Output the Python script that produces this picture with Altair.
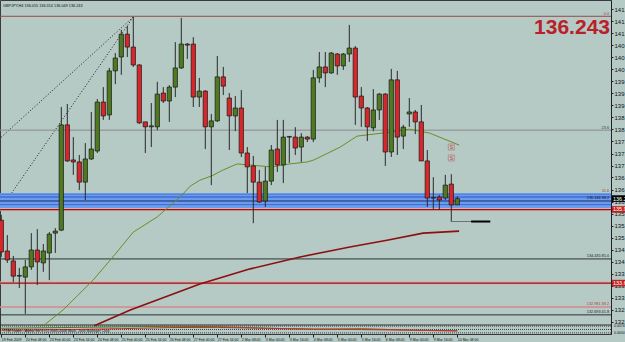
import altair as alt
import pandas as pd

# ---------------- data ----------------
opens = [135.59, 134.66, 134.36, 133.90, 133.87, 134.18, 134.69, 134.30, 134.60, 135.20,
         135.29, 138.47, 137.41, 137.35, 136.74, 137.44, 137.68, 139.16, 138.77, 140.10,
         140.52, 141.21, 140.82, 140.28, 138.56, 138.41, 138.41, 139.43, 139.19, 139.61,
         140.19, 140.91, 140.91, 139.31, 139.49, 138.41, 138.59, 139.92, 139.28, 138.74,
         138.98, 137.62, 137.23, 136.74, 136.17, 136.77, 137.74, 137.26, 138.10, 138.10,
         137.80, 138.10, 138.04, 139.89, 140.22, 140.04, 140.61, 140.25, 140.61, 140.79,
         139.34, 138.98, 138.38, 138.92, 139.40, 137.65, 139.83, 138.13, 138.80, 138.86,
         138.56, 137.38, 136.26, 136.29, 136.26, 136.68, 136.055]
highs = [135.75, 135.14, 134.51, 134.15, 134.39, 135.20, 135.32, 134.87, 135.23, 135.35,
         139.01, 139.10, 138.10, 137.56, 137.92, 138.86, 139.25, 139.61, 140.19, 140.64,
         141.34, 141.46, 141.73, 140.30, 138.56, 139.13, 139.77, 139.61, 139.67, 140.97,
         141.70, 140.94, 141.12, 139.89, 139.52, 138.80, 140.55, 140.22, 139.43, 139.34,
         139.52, 137.80, 137.53, 137.11, 137.20, 137.86, 138.62, 138.62, 138.13, 138.40,
         138.22, 138.13, 140.13, 140.67, 140.67, 140.67, 140.64, 140.64, 141.49, 140.85,
         139.61, 139.01, 139.55, 139.43, 139.43, 140.16, 140.10, 138.47, 139.28, 138.92,
         139.07, 137.71, 136.89, 136.35, 136.96, 136.98, 136.314]
lows = [134.48, 134.30, 133.72, 133.54, 132.76, 134.09, 133.63, 134.03, 133.78, 134.60,
        135.26, 137.35, 136.96, 136.50, 136.20, 137.41, 137.62, 138.62, 138.62, 139.70,
        139.98, 140.52, 140.22, 138.50, 137.62, 137.80, 138.31, 139.13, 138.56, 139.31,
        140.16, 140.46, 139.01, 139.01, 137.74, 136.65, 138.56, 139.37, 137.71, 138.28,
        137.50, 136.41, 135.50, 136.11, 135.99, 136.65, 137.05, 136.71, 137.32, 137.56,
        137.35, 137.95, 137.95, 139.74, 139.61, 140.01, 139.98, 140.13, 140.37, 138.47,
        138.41, 137.98, 138.28, 138.62, 137.23, 137.50, 137.56, 137.74, 138.41, 138.19,
        137.38, 135.99, 135.93, 135.90, 136.20, 135.54, 136.049]
closes = [134.63, 134.39, 133.90, 133.92, 134.18, 134.69, 134.33, 134.66, 135.17, 135.26,
          138.47, 137.38, 137.35, 136.74, 137.44, 137.74, 139.16, 138.74, 140.10, 140.49,
          141.21, 140.82, 140.28, 138.53, 138.41, 138.44, 139.40, 139.19, 139.61, 140.19,
          140.91, 140.88, 139.31, 139.49, 138.41, 138.59, 139.92, 139.64, 138.74, 138.98,
          137.62, 137.20, 136.74, 136.14, 136.77, 137.71, 137.26, 138.10, 138.12, 137.77,
          138.10, 138.04, 139.89, 140.22, 140.04, 140.64, 140.25, 140.61, 140.79, 139.31,
          138.98, 138.41, 138.92, 139.40, 137.65, 139.83, 138.10, 138.40, 138.86, 138.56,
          137.38, 136.26, 136.27, 136.20, 136.65, 136.05, 136.243]

x_labels = ["19 Feb 2009", "20 Feb 08:00", "23 Feb 00:00", "23 Feb 16:00", "24 Feb 08:00",
            "25 Feb 00:00", "25 Feb 16:00", "26 Feb 08:00", "27 Feb 00:00", "27 Feb 16:00",
            "2 Mar 08:00", "3 Mar 00:00", "3 Mar 16:00", "4 Mar 08:00", "5 Mar 00:00",
            "5 Mar 16:00", "6 Mar 08:00", "9 Mar 00:00", "9 Mar 16:00", "10 Mar 08:00"]

y_ticks = [141.970, 141.600, 141.240, 140.880, 140.510, 140.150, 139.790, 139.420, 139.060,
           138.700, 138.330, 137.970, 137.600, 137.240, 136.880, 136.510, 136.150, 135.790,
           135.420, 135.060, 134.700, 134.330, 133.970, 133.610, 133.240, 132.880, 132.520]

# moving averages (vertices)
ma_g_i = [7, 10.3, 15.3, 18.6, 22, 26, 29.8, 31.5, 33.1, 35.1, 37, 39.3, 45, 48.1, 51, 52.1,
          56.5, 59.3, 64.8, 68, 71.4, 76.3]
ma_g_v = [132.40, 132.88, 133.78, 134.48, 135.23, 135.69, 136.29, 136.62, 136.80, 136.93,
          137.11, 137.29, 137.20, 137.29, 137.35, 137.41, 137.80, 138.13, 138.25, 138.34,
          138.22, 137.86]
ma_r_i = [15.5, 21.5, 33.1, 41.5, 49.8, 58.1, 64.5, 70.3, 76.3]
ma_r_v = [132.40, 132.88, 133.66, 134.12, 134.48, 134.78, 134.99, 135.20, 135.26]

# fib fan dotted lines
fan_i = [0, 22]
fan1_v = [138.10, 141.73]
fan2_v = [135.96, 141.73]

# horizontal levels
lvl_top = 141.75
lvl_gray = 138.31
band_top, band_bot = 136.41, 135.96
band_lines = [136.37, 136.29, 136.17, 136.06]
lvl_band_red = 135.91
lvl_black = 134.42
lvl_red = 133.69
lvl_pink = 132.97
lvl_dark = 132.73

level_labels = ["0.0", "23.6", "11.6", "136.146  38.2", "134.435  85.0", "132.981  38.2", "132.693  41.8"]
level_label_p = [141.75, 138.31, 136.41, 136.17, 134.42, 132.97, 132.73]
level_label_c = ["#A03C3C", "#333333", "#A03C3C", "#111111", "#222222", "#B04040", "#222222"]

box_p = [136.243, 135.914, 133.689]
box_t = ["136.243", "135.914", "133.689"]
box_c = ["#000000", "#C02020", "#C02020"]

# bid marker near the last candle
seg_i1 = [75, 78.3]
seg_i2 = [78.3, 81.5]
seg_c = ["#707070", "#000000"]
seg_w = [1, 2]
seg_p = 135.55

s_marks_p = [137.80, 137.47]

# sub-window indicator
sub_i = [0, 10, 20, 28, 36, 44, 52, 60, 68, 76]
sub_blue = [0.0050, 0.0058, 0.0066, 0.0072, 0.0068, 0.0052, 0.0040, 0.0046, 0.0030, 0.0020]
sub_red = [0.0030, 0.0034, 0.0046, 0.0058, 0.0060, 0.0050, 0.0042, 0.0036, 0.0030, 0.0024]
sub_levels = [0.0074, 0.0037, 0.0]
sub_axis_labels = ["0.0074", "0.0000"]
sub_axis_vals = [0.0074, 0.0]

# ---------------- styling / layout ----------------
BG = "#B5C9C5"
GREEN = "#4F7A1F"
RED = "#D9262B"
W = 611
H = 334                 # main window (325 px) + indicator window (9 px)
FONT = "Liberation Sans"
XDOM = [-0.217, 101.617]
P_TOP = 142.242          # price at the top edge
P_MAIN_BOT = 132.424     # price at the main window's bottom edge
P_BOT = 132.152          # bottom edge of the indicator window (same scale)
SUB_MAX, SUB_MIN = 0.0086, -0.0012
SUB_EXPR = "%f - (%f - datum.v) / %f * %f" % (P_MAIN_BOT, SUB_MAX, SUB_MAX - SUB_MIN, P_MAIN_BOT - P_BOT)

xs = alt.Scale(domain=XDOM, nice=False, zero=False)
ys = alt.Scale(domain=[P_BOT, P_TOP], nice=False, zero=False)
labels_js = "[" + ",".join("'%s'" % s for s in x_labels) + "]"
xaxis = alt.Axis(values=[4 * k for k in range(len(x_labels))], labelExpr=labels_js + "[round(datum.value/4)]",
                 labelAlign="left", labelBaseline="top", labelFontSize=3.5, labelFont=FONT, tickSize=3,
                 labelPadding=0, grid=False, title=None, domain=False, tickColor="#222222",
                 labelColor="#111111", labelFlush=False, labelOverlap=False, labelBound=False)
yaxis = alt.Axis(orient="right", values=y_ticks, format=".3f", labelFontSize=6, labelFont=FONT,
                 tickSize=2, labelPadding=1, grid=False, title=None, domainColor="#222222",
                 tickColor="#222222", labelColor="#111111")


def X(f):
    return alt.X(f, type="quantitative", scale=xs, axis=xaxis)


def Y(f):
    return alt.Y(f, type="quantitative", scale=ys, axis=yaxis)


cdf = pd.DataFrame({"i": list(range(len(opens))), "o": opens, "h": highs, "l": lows, "c": closes})
cdf["dir"] = ["up" if c >= o else "down" for o, c in zip(opens, closes)]

band = alt.Chart(pd.DataFrame({"t": [band_top], "b": [band_bot]})).mark_rect(
    color="#6C9CEC", opacity=1).encode(x=alt.value(0), x2=alt.value(W), y=Y("t"), y2="b:Q")
band_l = alt.Chart(pd.DataFrame({"p": band_lines, "col": ["#5080DC", "#2D56C8", "#1B2B70", "#3D6AD8"]})
                   ).mark_rule(strokeWidth=1).encode(y=Y("p"), color=alt.Color("col:N", scale=None))

glow = alt.Chart(pd.DataFrame({"p": [lvl_band_red, lvl_red]})).mark_rule(
    color="#E9A8A8", strokeWidth=3).encode(y=Y("p"))
hlines = alt.Chart(pd.DataFrame({
    "p": [lvl_top, lvl_gray, lvl_band_red, lvl_black, lvl_red, lvl_pink, lvl_dark, P_MAIN_BOT],
    "col": ["#9A4A4A", "#8A8A8A", "#8B1A1A", "#2A3535", "#8B1A1A", "#D08A8A", "#2A3535", "#333333"],
    "w": [1, 1, 1.2, 1, 1.2, 1.5, 1, 1]})).mark_rule().encode(
    y=Y("p"), color=alt.Color("col:N", scale=None), strokeWidth=alt.StrokeWidth("w:Q", scale=None))

fan = alt.Chart(pd.DataFrame({
    "i": fan_i + fan_i, "p": fan1_v + fan2_v, "g": ["a", "a", "b", "b"]})).mark_line(
    color="#1a1a1a", strokeWidth=1, strokeDash=[1, 2], clip=True).encode(x=X("i"), y=Y("p"), detail="g:N")

ma_g = alt.Chart(pd.DataFrame({"i": ma_g_i, "p": ma_g_v})).mark_line(
    color="#6B8E23", strokeWidth=1, clip=True).encode(x=X("i"), y=Y("p"))
ma_r = alt.Chart(pd.DataFrame({"i": ma_r_i, "p": ma_r_v})).mark_line(
    color="#8B1010", strokeWidth=1.6, clip=True).encode(x=X("i"), y=Y("p"))

wicks = alt.Chart(cdf).mark_rule(color="#2a2a2a", strokeWidth=1, clip=True).encode(
    x=X("i"), y=Y("l"), y2="h:Q")
bodies = alt.Chart(cdf).transform_calculate(
    xa="datum.i - 0.36", xb="datum.i + 0.36").mark_rect(
    stroke="#151515", strokeWidth=0.7, clip=True).encode(
    x=X("xa"), x2="xb:Q", y=Y("o"), y2="c:Q",
    color=alt.Color("dir:N", scale=alt.Scale(domain=["up", "down"], range=[GREEN, RED]), legend=None))

seg = alt.Chart(pd.DataFrame({"a": seg_i1, "b": seg_i2, "col": seg_c, "w": seg_w, "p": [seg_p, seg_p]})
                ).mark_rule().encode(x=X("a"), x2="b:Q", y=Y("p"),
                                     color=alt.Color("col:N", scale=None),
                                     strokeWidth=alt.StrokeWidth("w:Q", scale=None))

s_df = pd.DataFrame({"i": [75, 75], "p": s_marks_p, "t": ["S", "S"]})
s_sq = alt.Chart(s_df).mark_square(size=36, filled=False, stroke="#C87070", strokeWidth=1).encode(
    x=X("i"), y=Y("p"))
s_tx = alt.Chart(s_df).mark_text(fontSize=5, color="#B04040", font=FONT).encode(
    x=X("i"), y=Y("p"), text="t:N")

lbl = alt.Chart(pd.DataFrame({"t": level_labels, "p": level_label_p, "col": level_label_c})).mark_text(
    align="right", baseline="bottom", fontSize=3.8, font=FONT, dy=-0.5).encode(
    x=alt.value(609), y=Y("p"), text="t:N", color=alt.Color("col:N", scale=None))

boxes = alt.Chart(pd.DataFrame({"p": box_p, "t": box_t, "col": box_c})).transform_calculate(
    top="datum.p + 0.1", bot="datum.p - 0.1")
box_r = boxes.mark_rect().encode(x=alt.value(612), x2=alt.value(640), y=Y("top"), y2="bot:Q",
                                 color=alt.Color("col:N", scale=None))
box_t_ = boxes.mark_text(align="left", baseline="middle", fontSize=5.5, font=FONT, color="white").encode(
    x=alt.value(613), y=Y("p"), text="t:N")

big = alt.Chart(pd.DataFrame({"t": ["136.243"], "p": [141.40]})).mark_text(
    align="right", baseline="middle", fontSize=21, fontWeight="bold", font=FONT, color="#B8202A").encode(
    x=alt.value(610), y=Y("p"), text="t:N")

title = alt.Chart(pd.DataFrame({"t": ["GBPJPY,H4  136.055 136.314 136.049 136.243"]})).mark_text(
    align="left", baseline="middle", fontSize=3.8, font=FONT, color="#111111").encode(
    x=alt.value(3), y=alt.value(6), text="t:N")

# indicator window, mapped into the shared price scale below the main window
sub_long = pd.DataFrame({"i": sub_i * 2, "v": sub_blue + sub_red,
                         "s": ["b"] * len(sub_i) + ["r"] * len(sub_i)})
sub_lines = alt.Chart(sub_long).transform_calculate(p=SUB_EXPR).mark_line(strokeWidth=1, clip=True).encode(
    x=X("i"), y=Y("p"), detail="s:N",
    color=alt.Color("s:N", scale=alt.Scale(domain=["b", "r"], range=["#1F3FBF", "#A02020"]), legend=None))
sub_lv = alt.Chart(pd.DataFrame({"v": sub_levels})).transform_calculate(p=SUB_EXPR).mark_rule(
    color="#222222", strokeWidth=0.8, strokeDash=[1, 1]).encode(y=Y("p"))
sub_ax = alt.Chart(pd.DataFrame({"v": sub_axis_vals, "t": sub_axis_labels})).transform_calculate(
    p=SUB_EXPR).mark_text(align="left", baseline="middle", fontSize=3.5, font=FONT, color="#111111").encode(
    x=alt.value(614), y=Y("p"), text="t:N")
sub_txt = alt.Chart(pd.DataFrame({"t": ["TTM Trader - Alpha Vol 3 (C) 2005-2008 Mark, Josh Ballinger Corp"]})
                    ).mark_text(align="left", baseline="middle", fontSize=3.6, font=FONT, color="#111111"
                                ).encode(x=alt.value(3), y=alt.value(331), text="t:N")

chart = alt.layer(fan, band, band_l, glow, hlines, ma_r, ma_g, wicks, bodies, seg, s_sq, s_tx,
                  lbl, box_r, box_t_, big, title, sub_lv, sub_lines, sub_ax, sub_txt).properties(
    width=W, height=H, background=BG,
    padding={"left": 0, "top": 0, "right": 14, "bottom": 8},
    autosize=alt.AutoSizeParams(type="none"),
).configure_view(stroke="#3a3a3a", strokeWidth=1, fill=BG)

chart.save("out.html", embed_options={"renderer": "svg", "actions": False})
